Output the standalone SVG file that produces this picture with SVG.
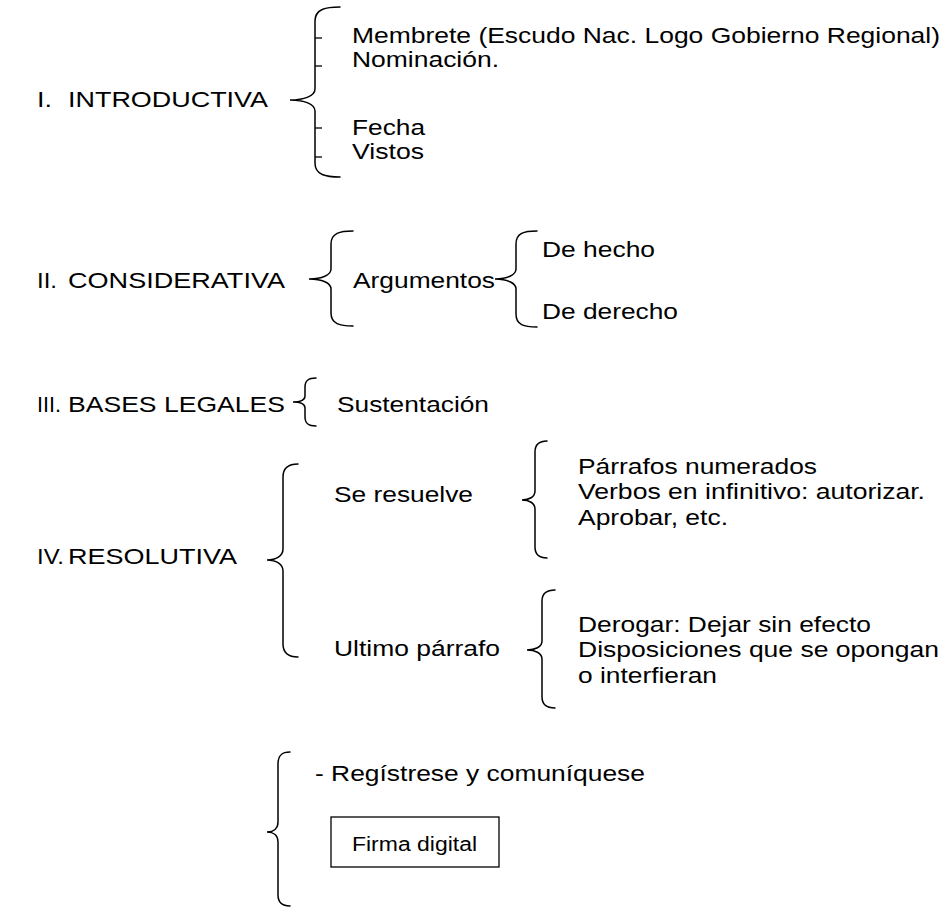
<svg xmlns="http://www.w3.org/2000/svg" width="949" height="908" viewBox="0 0 949 908">
<style>
.t{font-family:"Liberation Sans",Arial,sans-serif;font-size:22px;fill:#000}
.s{font-size:20px}
.b{fill:none;stroke:#000;stroke-width:1.5;stroke-linecap:round}
.k{fill:none;stroke:#000;stroke-width:1.3}
.box{fill:#fff;stroke:#000;stroke-width:1.3}
</style>
<rect width="949" height="908" fill="#fff"/>
<g id="connectors">
<path class="b" d="M340,7 C326,7 315,9 315,21 L315,89 C315,96 304,100 290,100 C304,100 315,104 315,111 L315,163 C315,175 326,177 340,177"/>
<line class="k" x1="315" y1="38" x2="322" y2="38"/>
<line class="k" x1="315" y1="66" x2="322" y2="66"/>
<line class="k" x1="315" y1="128" x2="322" y2="128"/>
<line class="k" x1="315" y1="157" x2="322" y2="157"/>
<path class="b" d="M353,231 C340,231 331,233 331,244 L331,269 C331,275 322,279 309,279 C322,279 331,283 331,289 L331,313 C331,324 340,326 353,326"/>
<path class="b" d="M537,231 C524,231 516,233 516,244 L516,269 C516,275 507,279 495,279 C507,279 516,283 516,289 L516,314 C516,325 524,327 537,327"/>
<path class="b" d="M316,378 C309,378 305,380 305,387 L305,396 C305,400 300,402 293,402 C300,402 305,404 305,408 L305,417 C305,424 309,426 316,426"/>
<path class="b" d="M298,464 C289,464 283,467 283,477 L283,549 C283,556 276,560 267,560 C276,560 283,564 283,571 L283,644 C283,654 289,657 298,657"/>
<path class="b" d="M547,441 C539,441 535,444 535,452 L535,491 C535,497 529,500 522,500 C529,500 535,503 535,509 L535,547 C535,555 539,558 547,558"/>
<path class="b" d="M555,590 C547,590 542,593 542,601 L542,641 C542,647 535,650 527,650 C535,650 542,653 542,659 L542,697 C542,705 547,708 555,708"/>
<path class="b" d="M290,752 C282,752 278,755 278,764 L278,822 C278,829 273,832 267,832 C273,832 278,835 278,842 L278,895 C278,903 282,906 290,906"/>
</g>
<g id="introductiva">
<text class="t" x="37" y="107" textLength="15" lengthAdjust="spacingAndGlyphs">I.</text>
<text class="t" x="68" y="107" textLength="200" lengthAdjust="spacingAndGlyphs">INTRODUCTIVA</text>
</g>
<g id="intro-items">
<text class="t" x="352" y="43" textLength="588" lengthAdjust="spacingAndGlyphs">Membrete (Escudo Nac. Logo Gobierno Regional)</text>
<text class="t" x="352" y="67" textLength="147" lengthAdjust="spacingAndGlyphs">Nominación.</text>
<text class="t" x="352" y="135" textLength="73" lengthAdjust="spacingAndGlyphs">Fecha</text>
<text class="t" x="352" y="159" textLength="72" lengthAdjust="spacingAndGlyphs">Vistos</text>
</g>
<g id="considerativa">
<text class="t" x="37" y="288" textLength="20" lengthAdjust="spacingAndGlyphs">II.</text>
<text class="t" x="68" y="288" textLength="217" lengthAdjust="spacingAndGlyphs">CONSIDERATIVA</text>
</g>
<g id="argumentos">
<text class="t" x="353" y="288" textLength="142" lengthAdjust="spacingAndGlyphs">Argumentos</text>
</g>
<g id="argumentos-items">
<text class="t" x="542" y="257" textLength="113" lengthAdjust="spacingAndGlyphs">De hecho</text>
<text class="t" x="542" y="319" textLength="136" lengthAdjust="spacingAndGlyphs">De derecho</text>
</g>
<g id="bases-legales">
<text class="t" x="37" y="412" textLength="24" lengthAdjust="spacingAndGlyphs">III.</text>
<text class="t" x="68" y="412" textLength="217" lengthAdjust="spacingAndGlyphs">BASES LEGALES</text>
</g>
<g id="sustentacion">
<text class="t" x="337" y="412" textLength="152" lengthAdjust="spacingAndGlyphs">Sustentación</text>
</g>
<g id="resolutiva">
<text class="t" x="37" y="564" textLength="27" lengthAdjust="spacingAndGlyphs">IV.</text>
<text class="t" x="68" y="564" textLength="169" lengthAdjust="spacingAndGlyphs">RESOLUTIVA</text>
</g>
<g id="se-resuelve">
<text class="t" x="334" y="502" textLength="139" lengthAdjust="spacingAndGlyphs">Se resuelve</text>
</g>
<g id="se-resuelve-items">
<text class="t" x="578" y="474" textLength="239" lengthAdjust="spacingAndGlyphs">Párrafos numerados</text>
<text class="t" x="578" y="499" textLength="347" lengthAdjust="spacingAndGlyphs">Verbos en infinitivo: autorizar.</text>
<text class="t" x="578" y="525" textLength="150" lengthAdjust="spacingAndGlyphs">Aprobar, etc.</text>
</g>
<g id="ultimo-parrafo">
<text class="t" x="334" y="656" textLength="166" lengthAdjust="spacingAndGlyphs">Ultimo párrafo</text>
</g>
<g id="ultimo-parrafo-items">
<text class="t" x="578" y="632" textLength="293" lengthAdjust="spacingAndGlyphs">Derogar: Dejar sin efecto</text>
<text class="t" x="578" y="657" textLength="361" lengthAdjust="spacingAndGlyphs">Disposiciones que se opongan</text>
<text class="t" x="578" y="683" textLength="139" lengthAdjust="spacingAndGlyphs">o interfieran</text>
</g>
<g id="registrese">
<text class="t" x="315" y="781" textLength="330" lengthAdjust="spacingAndGlyphs">- Regístrese y comuníquese</text>
</g>
<g id="firma-digital">
<rect class="box" x="331" y="817" width="168" height="50"/>
<text class="t s" x="352" y="851" textLength="125" lengthAdjust="spacingAndGlyphs">Firma digital</text>
</g>
</svg>
